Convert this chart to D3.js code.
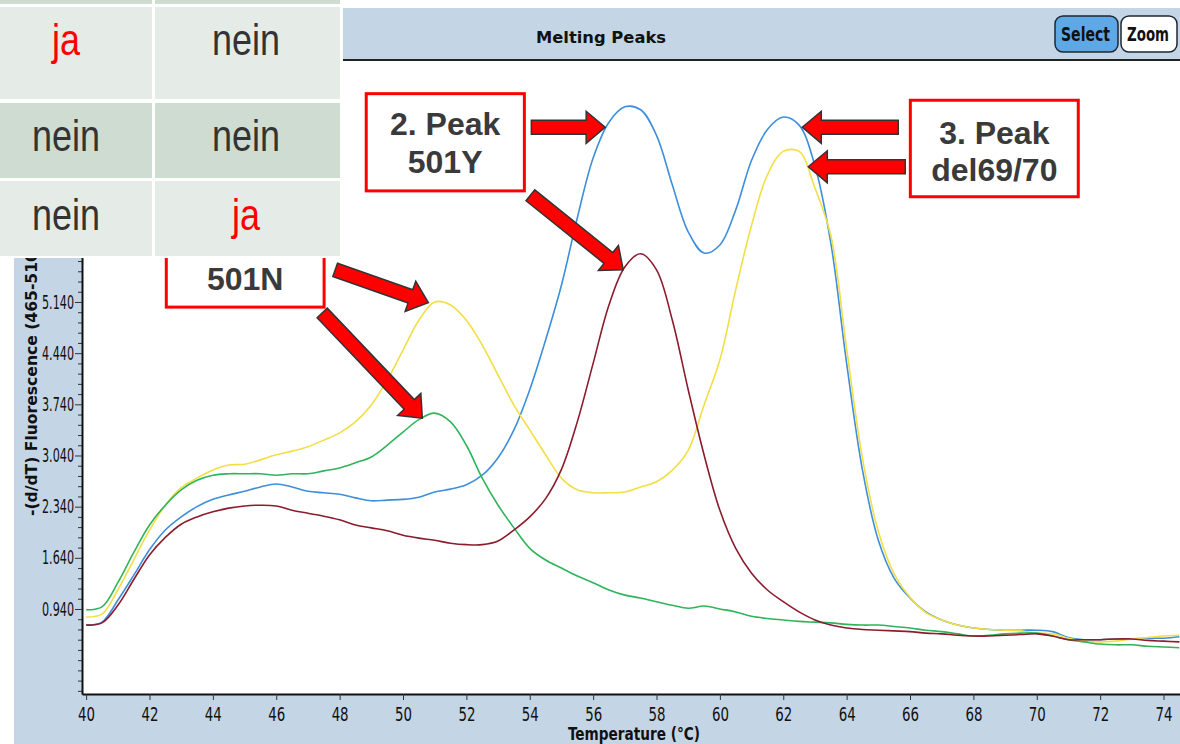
<!DOCTYPE html>
<html lang="de">
<head>
<meta charset="UTF-8">
<title>Melting Peaks</title>
<script src="https://d3js.org/d3.v7.min.js"></script>
<style>
  body { margin: 0; background: #fff; }
  svg { display: block; }
</style>
</head>
<body>
<script>
// temperature grid (°C) shared by all four curves
const temps = [40,40.5,41,41.5,42,42.5,43,43.5,44,44.5,45,45.5,46,46.5,47,47.5,48,48.5,49,49.5,
  50,50.5,51,51.5,52,52.5,53,53.5,54,54.5,55,55.5,56,56.5,57,57.5,58,58.5,59,59.5,
  60,60.5,61,61.5,62,62.5,63,63.5,64,64.5,65,65.5,66,66.5,67,67.5,68,68.5,69,69.5,
  70,70.5,71,71.5,72,72.5,73,73.5,74,74.5];

const blueVals = [0.72,0.76,1.06,1.40,1.75,2.02,2.20,2.34,2.44,2.50,2.55,2.61,2.65,2.61,2.55,2.53,2.51,2.46,2.42,2.43,
  2.44,2.47,2.54,2.58,2.64,2.77,3.01,3.39,3.94,4.62,5.37,6.29,7.11,7.60,7.81,7.77,7.42,6.74,6.10,5.81,
  5.92,6.40,7.08,7.50,7.67,7.56,7.00,5.95,4.30,2.84,1.88,1.36,1.09,0.90,0.79,0.72,0.68,0.66,0.65,0.65,
  0.65,0.63,0.55,0.52,0.52,0.53,0.53,0.54,0.54,0.56];

const yellowVals = [0.83,0.87,1.20,1.61,2.02,2.36,2.60,2.73,2.84,2.91,2.92,2.98,3.05,3.10,3.16,3.25,3.35,3.50,3.73,4.07,
  4.48,4.89,5.14,5.10,4.89,4.55,4.14,3.73,3.39,3.05,2.73,2.57,2.53,2.53,2.54,2.61,2.68,2.84,3.11,3.73,
  4.35,5.31,6.19,6.88,7.20,7.20,6.70,6.05,4.50,3.00,2.00,1.42,1.10,0.89,0.79,0.72,0.68,0.66,0.65,0.64,
  0.61,0.60,0.54,0.50,0.49,0.50,0.53,0.55,0.57,0.58];

const greenVals = [0.93,0.97,1.30,1.71,2.09,2.36,2.57,2.70,2.77,2.79,2.79,2.79,2.77,2.79,2.79,2.83,2.87,2.94,3.02,3.18,
  3.36,3.53,3.62,3.50,3.18,2.73,2.36,2.05,1.77,1.61,1.50,1.39,1.30,1.20,1.13,1.09,1.04,0.99,0.95,0.98,
  0.94,0.90,0.84,0.81,0.79,0.77,0.76,0.75,0.73,0.72,0.72,0.70,0.68,0.65,0.63,0.60,0.57,0.58,0.60,0.61,
  0.61,0.57,0.52,0.49,0.46,0.45,0.45,0.43,0.42,0.41];

const redVals = [0.72,0.75,0.99,1.34,1.68,1.92,2.10,2.20,2.27,2.32,2.35,2.36,2.35,2.29,2.25,2.21,2.16,2.09,2.05,2.01,
  1.95,1.91,1.88,1.84,1.82,1.82,1.87,2.02,2.20,2.45,2.85,3.50,4.30,5.10,5.62,5.80,5.58,4.89,3.94,3.05,
  2.29,1.77,1.43,1.20,1.04,0.90,0.79,0.72,0.68,0.66,0.65,0.64,0.63,0.61,0.60,0.58,0.57,0.57,0.58,0.59,
  0.60,0.57,0.52,0.52,0.52,0.53,0.53,0.51,0.50,0.49];

const seriesColors = ["#3d8fdc", "#f1df45", "#2fb45c", "#8b1c2e"];

const xTicks = [40,42,44,46,48,50,52,54,56,58,60,62,64,66,68,70,72,74];
const yTicks = [0.94,1.64,2.34,3.04,3.74,4.44,5.14,5.84];
const yMinorTicks = [-0.18,-0.04,0.10,0.24,0.38,0.52,0.66,0.80,1.08,1.22,1.36,1.50,1.78,1.92,2.06,2.20,
  2.48,2.62,2.76,2.90,3.18,3.32,3.46,3.60,3.88,4.02,4.16,4.30,4.58,4.72,4.86,5.00,5.28,5.42,5.56,5.70,
  5.98,6.12,6.26,6.40,6.54,6.68,6.82,6.96,7.10,7.24,7.38,7.52,7.66,7.80,7.94,8.08,8.22,8.36];

// annotation boxes and arrows, in data units (°C, fluorescence)
const noteBoxes = [
  { t0: 42.53, t1: 47.51, v0: 6.33, v1: 5.07, tc: 45.02, lines: [["501N", 5.45]] },
  { t0: 48.84, t1: 53.83, v0: 7.99, v1: 6.66, tc: 51.33, lines: [["2. Peak", 7.58], ["501Y", 7.06]] },
  { t0: 66.01, t1: 71.31, v0: 7.90, v1: 6.58, tc: 68.66, lines: [["3. Peak", 7.45], ["del69/70", 6.95]] }
];
const noteArrows = [
  { t0: 47.86, v0: 5.58, t1: 50.80, v1: 5.13 },
  { t0: 47.45, v0: 4.99, t1: 50.61, v1: 3.55 },
  { t0: 54.05, v0: 7.53, t1: 56.38, v1: 7.53 },
  { t0: 54.02, v0: 6.60, t1: 56.95, v1: 5.58 },
  { t0: 65.63, v0: 7.53, t1: 62.60, v1: 7.53 },
  { t0: 65.85, v0: 6.99, t1: 62.79, v1: 6.99 }
];

const tableRows = [["ja", "nein"], ["nein", "nein"], ["nein", "ja"]];

const W = 1180, H = 744;
const plot = { left: 82, right: 1180, top: 61, bottom: 694 };
const panelBlue = "#c4d5e6";
const narrow = "'Liberation Sans Narrow', 'DejaVu Sans Condensed', Arial, sans-serif";

const svg = d3.select("body").append("svg").attr("width", W).attr("height", H);

// software window panel
svg.append("rect").attr("x", 14).attr("y", 8).attr("width", W - 14).attr("height", H - 8).attr("fill", panelBlue);
svg.append("line").attr("x1", 14).attr("x2", W).attr("y1", 60).attr("y2", 60)
  .attr("stroke", "#222").attr("stroke-width", 2);
svg.append("rect").attr("x", plot.left).attr("y", plot.top)
  .attr("width", plot.right - plot.left).attr("height", plot.bottom - plot.top).attr("fill", "#fff");

svg.append("text").attr("x", 601).attr("y", 38).attr("text-anchor", "middle").attr("dominant-baseline", "central")
  .attr("font-family", narrow).attr("font-weight", "bold").attr("font-size", 15)
  .attr("textLength", 130).attr("lengthAdjust", "spacingAndGlyphs").attr("fill", "#111")
  .text("Melting Peaks");

// buttons
const buttons = [{ label: "Select", x: 1055, w: 63, fill: "#5ea8e6" }, { label: "Zoom", x: 1121, w: 56, fill: "#fff" }];
buttons.forEach(b => {
  svg.append("rect").attr("x", b.x).attr("y", 16).attr("width", b.w).attr("height", 36).attr("rx", 8)
    .attr("fill", b.fill).attr("stroke", "#1d2733").attr("stroke-width", 1.5);
  svg.append("text").attr("x", b.x + b.w / 2 - 1).attr("y", 34).attr("text-anchor", "middle")
    .attr("dominant-baseline", "central").attr("font-family", narrow).attr("font-weight", "bold")
    .attr("font-size", 20).attr("textLength", b.w - 14).attr("lengthAdjust", "spacingAndGlyphs")
    .attr("fill", "#111").text(b.label);
});

const x = d3.scaleLinear().domain([39.87, 74.52]).range([plot.left, plot.right]);
const y = d3.scaleLinear().domain([-0.223, 8.437]).range([plot.bottom, plot.top]);

svg.append("clipPath").attr("id", "plotclip").append("rect")
  .attr("x", plot.left).attr("y", plot.top)
  .attr("width", plot.right - plot.left).attr("height", plot.bottom - plot.top);

const line = d3.line()
  .x((d, i) => x(temps[i]))
  .y(d => y(d))
  .curve(d3.curveCatmullRom);

const series = [blueVals, yellowVals, greenVals, redVals];
svg.append("g").attr("clip-path", "url(#plotclip)")
  .selectAll("path").data(series).join("path")
  .attr("d", d => line(d))
  .attr("fill", "none")
  .attr("stroke", (d, i) => seriesColors[i])
  .attr("stroke-width", 1.6);

// axes
const xAxis = svg.append("g").attr("transform", `translate(0,${plot.bottom})`)
  .call(d3.axisBottom(x).tickValues(xTicks).tickSize(6).tickSizeOuter(0).tickFormat(d3.format("d")));
const yMinor = svg.append("g").attr("transform", `translate(${plot.left},0)`)
  .call(d3.axisLeft(y).tickValues(yMinorTicks).tickSize(4).tickSizeOuter(0).tickFormat(""));
yMinor.select(".domain").remove();
const yAxis = svg.append("g").attr("transform", `translate(${plot.left},0)`)
  .call(d3.axisLeft(y).tickValues(yTicks).tickSize(7).tickSizeOuter(0).tickFormat(d3.format(".3f")));

[xAxis, yAxis, yMinor].forEach(g => {
  g.selectAll("line").attr("stroke", "#333");
  g.select(".domain").attr("stroke", "#111").attr("stroke-width", 2);
  g.selectAll("text").attr("font-family", narrow).attr("font-size", 19).attr("fill", "#111")
    .attr("lengthAdjust", "spacingAndGlyphs");
});
xAxis.selectAll("text").attr("dy", "0.95em").attr("textLength", 17);
yAxis.selectAll("text").attr("x", -8).attr("textLength", 32);

svg.append("text").attr("x", 634).attr("y", 734).attr("text-anchor", "middle").attr("dominant-baseline", "central")
  .attr("font-family", narrow).attr("font-weight", "bold").attr("font-size", 17)
  .attr("textLength", 132).attr("lengthAdjust", "spacingAndGlyphs").attr("fill", "#111")
  .text("Temperature (°C)");

svg.append("text").attr("transform", "translate(31,380) rotate(-90)").attr("text-anchor", "middle")
  .attr("dominant-baseline", "central").attr("font-family", narrow).attr("font-weight", "bold")
  .attr("font-size", 16).attr("textLength", 272).attr("lengthAdjust", "spacingAndGlyphs").attr("fill", "#111")
  .text("-(d/dT) Fluorescence (465-510)");

// annotation boxes
const notes = svg.append("g");
noteBoxes.forEach(b => {
  notes.append("rect").attr("x", x(b.t0)).attr("y", y(b.v0))
    .attr("width", x(b.t1) - x(b.t0)).attr("height", y(b.v1) - y(b.v0))
    .attr("fill", "#fff").attr("stroke", "#ff0000").attr("stroke-width", 3);
  b.lines.forEach(([txt, v]) => {
    notes.append("text").attr("x", x(b.tc)).attr("y", y(v)).attr("text-anchor", "middle")
      .attr("dominant-baseline", "central").attr("font-family", "'Liberation Sans', Arial, sans-serif")
      .attr("font-weight", "bold").attr("font-size", 32).attr("fill", "#3a3a3a").text(txt);
  });
});

function arrowPoints(a) {
  const x0 = x(a.t0), y0 = y(a.v0), x1 = x(a.t1), y1 = y(a.v1);
  const len = Math.hypot(x1 - x0, y1 - y0);
  const ux = (x1 - x0) / len, uy = (y1 - y0) / len;
  const nx = -uy, ny = ux;
  const sw = 7, hw = 16, hl = 19;
  const bx = x1 - ux * hl, by = y1 - uy * hl;
  const pts = [
    [x0 + nx * sw, y0 + ny * sw], [bx + nx * sw, by + ny * sw], [bx + nx * hw, by + ny * hw],
    [x1, y1],
    [bx - nx * hw, by - ny * hw], [bx - nx * sw, by - ny * sw], [x0 - nx * sw, y0 - ny * sw]
  ];
  return pts.map(p => p.join(",")).join(" ");
}
notes.selectAll("polygon").data(noteArrows).join("polygon")
  .attr("points", d => arrowPoints(d))
  .attr("fill", "#ff0000").attr("stroke", "#333").attr("stroke-width", 1.5).attr("stroke-linejoin", "miter");

// overlaid table (slide element)
const table = svg.append("g");
table.append("rect").attr("x", 0).attr("y", 0).attr("width", 343).attr("height", 258).attr("fill", "#fff");
const colSpans = [[0, 152], [155, 340]];
const colText = [66, 246];
const rowSpans = [[0, 4, "#cfdcd2"], [7, 99, "#e5ece7"], [103, 178, "#cfdcd2"], [181, 256, "#e5ece7"]];
const rowText = [null, 40, 136, 215];
rowSpans.forEach((r, ri) => {
  colSpans.forEach((c, ci) => {
    table.append("rect").attr("x", c[0]).attr("y", r[0]).attr("width", c[1] - c[0]).attr("height", r[1] - r[0])
      .attr("fill", r[2]);
    if (ri > 0) {
      const word = tableRows[ri - 1][ci];
      table.append("text")
        .attr("transform", `translate(${colText[ci]},${rowText[ri]}) scale(1,1.25)`)
        .attr("text-anchor", "middle").attr("dominant-baseline", "central")
        .attr("font-family", "'Liberation Sans', Arial, sans-serif").attr("font-size", 36)
        .attr("fill", word === "ja" ? "#ff0000" : "#333").text(word);
    }
  });
});
</script>
</body>
</html>
